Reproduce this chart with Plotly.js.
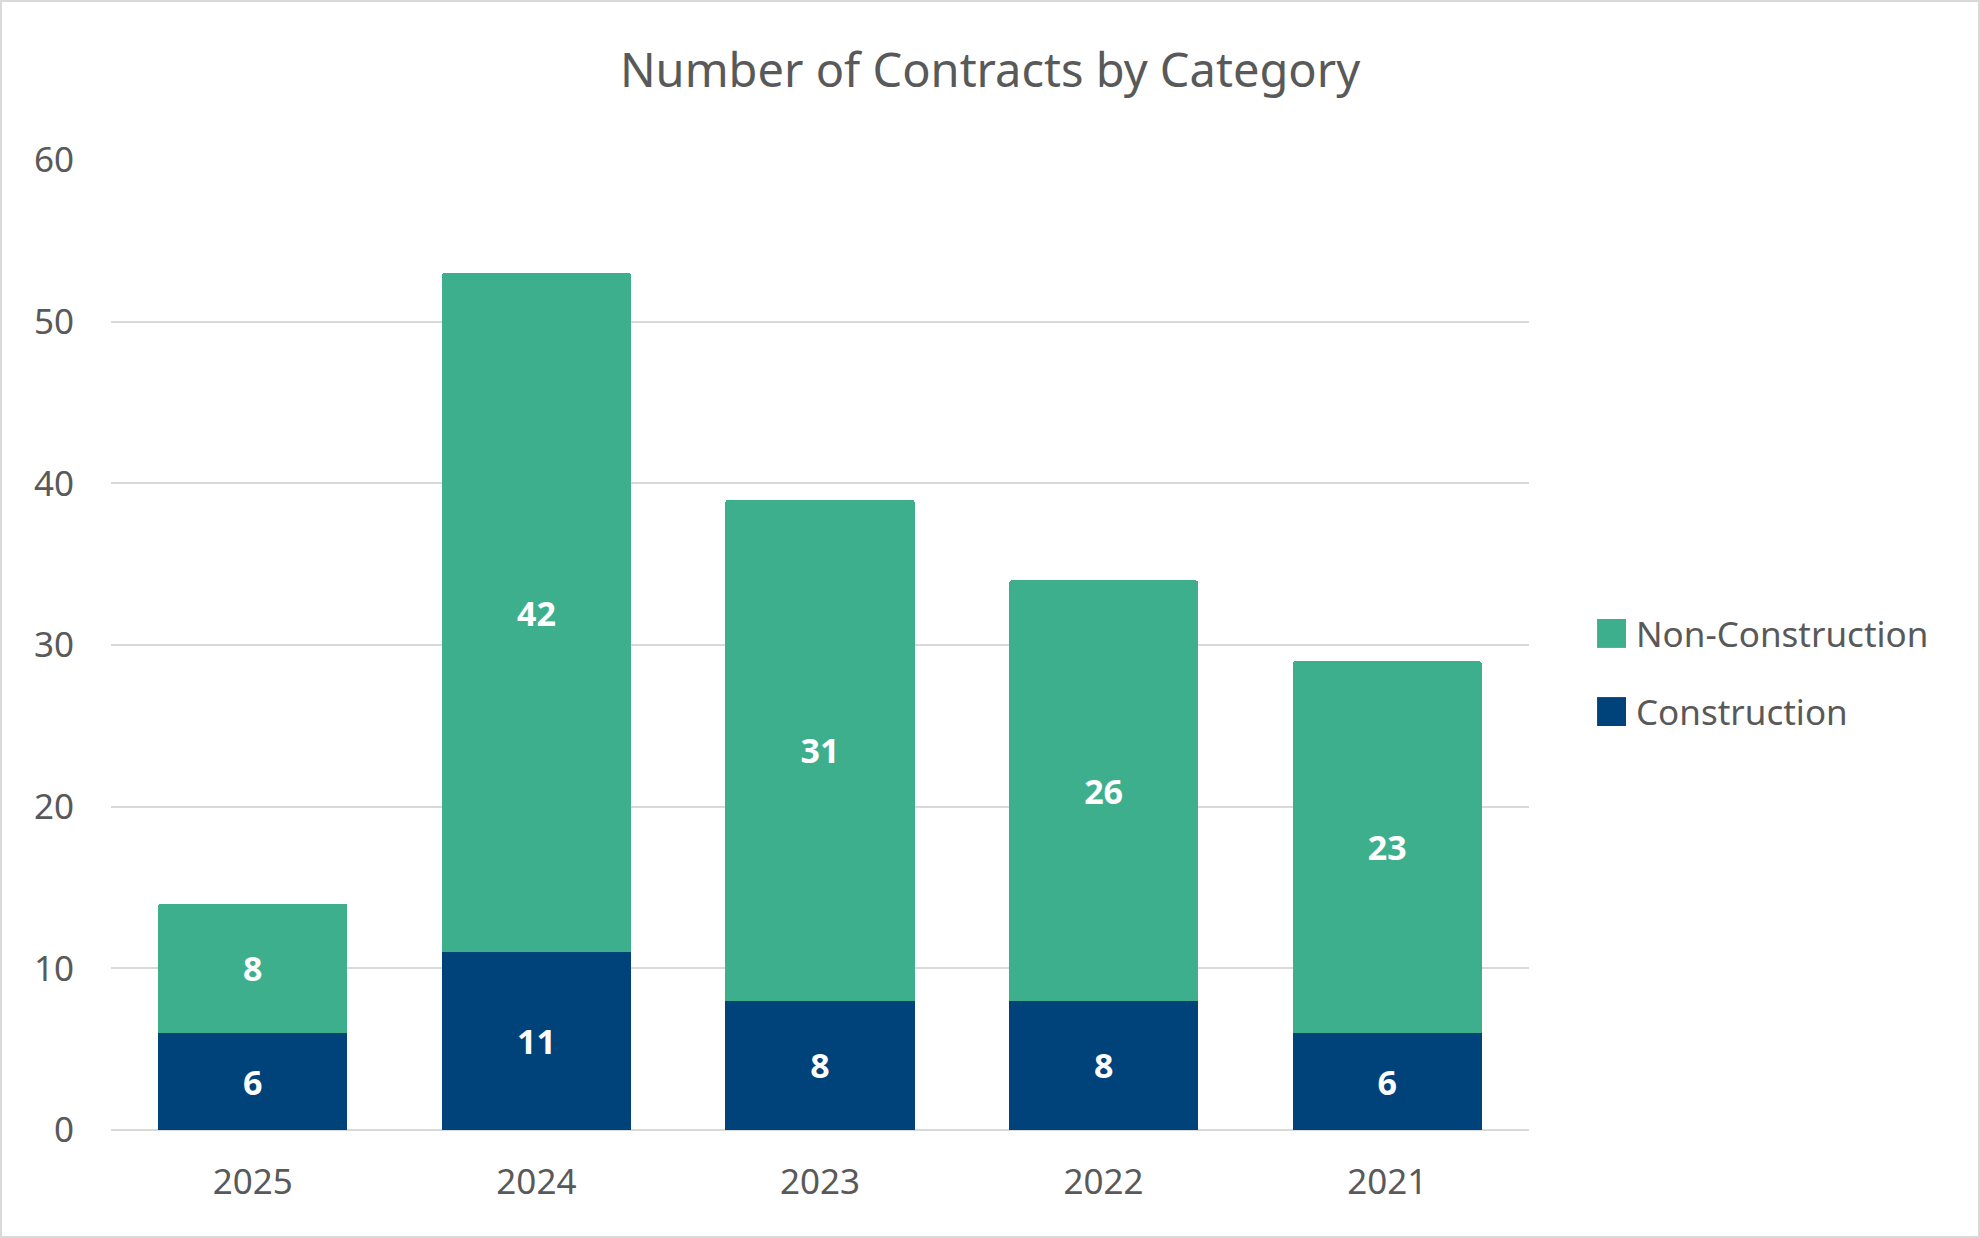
<!DOCTYPE html>
<html>
<head>
<meta charset="utf-8">
<script src="https://cdn.plot.ly/plotly-3.0.1.min.js"></script>
<style>
html,body{margin:0;padding:0;background:#fff;}
#wrap{position:relative;width:1980px;height:1238px;}
#chart{width:1980px;height:1238px;}
#frame{position:absolute;left:0;top:0;width:1980px;height:1238px;box-sizing:border-box;border:2px solid #D9D9D9;pointer-events:none;}
</style>
</head>
<body>
<div id="wrap"><div id="chart"></div><div id="frame"></div></div>
<script>
const years = ["2025", "2024", "2023", "2022", "2021"];
const construction = [6, 11, 8, 8, 6];
const nonConstruction = [8, 42, 31, 26, 23];
const seriesNames = ["Construction", "Non-Construction"];
const seriesColors = ["#00427A", "#3EAF8C"];
const yTicks = [0, 10, 20, 30, 40, 50, 60];

const FONT = "Noto Sans, Open Sans, sans-serif";
const GRAY = "#595959";

function barTrace(vals, i) {
  return {
    type: "bar",
    name: seriesNames[i],
    x: years,
    y: vals,
    marker: {color: seriesColors[i], line: {width: 0}},
    text: vals.map(String),
    textposition: "inside",
    insidetextanchor: "middle",
    constraintext: "none",
    textfont: {family: FONT, size: 34, color: "#FFFFFF", weight: "bold"},
    hoverinfo: "x+y+name",
    showlegend: false
  };
}

const data = [barTrace(construction, 0), barTrace(nonConstruction, 1)];

// custom legend (swatches + labels), top item = Non-Construction
const legendItems = [
  {name: seriesNames[1], color: seriesColors[1], yc: 0.5119},
  {name: seriesNames[0], color: seriesColors[0], yc: 0.4314}
];
const sw = 0.0149; // half swatch height (paper)
const shapes = legendItems.map(it => ({
  type: "rect", xref: "paper", yref: "paper",
  x0: 1.0480, x1: 1.0684, y0: it.yc - sw, y1: it.yc + sw,
  fillcolor: it.color, line: {width: 0}
}));
const annotations = legendItems.map(it => ({
  xref: "paper", yref: "paper", x: 1.0740, y: it.yc,
  xanchor: "left", yanchor: "middle", showarrow: false,
  text: it.name, font: {family: FONT, size: 35, color: GRAY}
}));

const layout = {
  width: 1980, height: 1238,
  paper_bgcolor: "#FFFFFF", plot_bgcolor: "#FFFFFF",
  margin: {l: 111, r: 451, t: 160, b: 108, pad: 0},
  barmode: "stack",
  bargap: 0.333,
  barcornerradius: 3,
  font: {family: FONT, color: GRAY},
  title: {
    text: "Number of Contracts by Category",
    font: {family: FONT, size: 47, color: GRAY},
    x: 0.5, xref: "container", xanchor: "center",
    y: 0.943, yref: "container", yanchor: "middle"
  },
  xaxis: {
    type: "category",
    tickfont: {family: FONT, size: 35, color: GRAY},
    showgrid: false, zeroline: false, showline: false,
    ticks: "", ticklabelstandoff: 28
  },
  yaxis: {
    range: [0, 60],
    tickvals: yTicks,
    ticktext: yTicks.map(String),
    tickfont: {family: FONT, size: 35, color: GRAY},
    showgrid: true, gridcolor: "#D9D9D9", gridwidth: 2,
    zeroline: true, zerolinecolor: "#D9D9D9", zerolinewidth: 2,
    showline: false, ticks: "", ticklabelstandoff: 36
  },
  showlegend: false,
  shapes: shapes,
  annotations: annotations
};

Plotly.newPlot("chart", data, layout, {displayModeBar: false, staticPlot: true});
</script>
</body>
</html>
